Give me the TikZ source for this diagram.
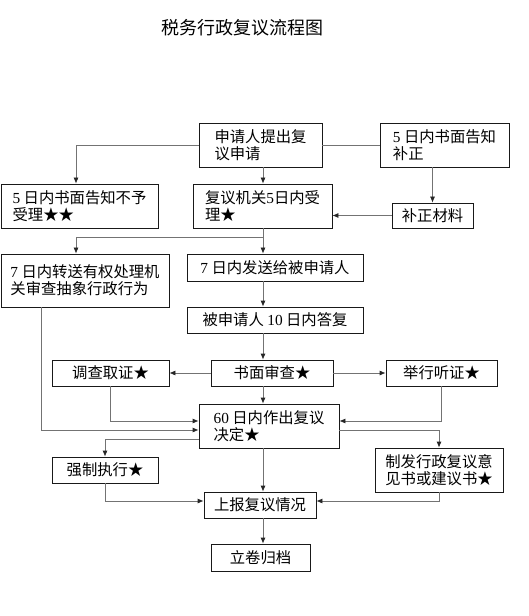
\documentclass[tikz,border=0pt]{standalone}
\usepackage{fontspec}
\setmainfont{Noto Sans CJK SC}
\newfontfamily\numfont{Liberation Serif}
\newcommand{\nr}[1]{{\numfont #1}}
\usetikzlibrary{arrows.meta}
\tikzset{box/.style={draw=black!90, align=left, inner sep=2pt},
  conn/.style={draw=black!55},
  >={Latex[length=4.5pt,width=3.8pt,color=black!85]}}
\begin{document}
\begin{tikzpicture}[x=0.75pt,y=-0.75pt,line width=0.6pt]\fontsize{11.5}{13}\selectfont
\useasboundingbox (0,0) rectangle (528,616);
\node (title) at (242,28) {\fontsize{13.5}{15}\selectfont 税务行政复议流程图};
\coordinate (trunk) at (263,0);
\coordinate (lcol) at (76,0);
\coordinate (split) at (263,237);
\node[box,minimum width=92.25pt,minimum height=33pt] (apply) at (260.5,145) {申请人提出复\\议申请};
\node[box,minimum width=96.75pt,minimum height=33pt] (notify) at (444.5,145) {\nr{5} 日内书面告知\\补正};
\node[box,minimum width=117.75pt,minimum height=33pt] (reject) at (79.5,206) {\nr{5} 日内书面告知不予\\受理★★};
\node[box,minimum width=104.25pt,minimum height=33pt] (accept) at (262.5,206) {复议机关\nr{5}日内受\\理★};
\node[box,minimum width=60.75pt,minimum height=18.75pt] (supply) at (432.5,215.5) {补正材料};
\node[box,minimum width=126pt,minimum height=39.75pt] (transfer) at (85,280.5) {\nr{7} 日内转送有权处理机\\关审查抽象行政行为};
\node[box,minimum width=132pt,minimum height=20.25pt] (send) at (275,267.5) {\nr{7} 日内发送给被申请人};
\node[box,minimum width=132pt,minimum height=19.5pt] (reply) at (275,320) {被申请人 \nr{10} 日内答复};
\node[box,minimum width=91.5pt,minimum height=19.5pt] (review) at (272,373) {书面审查★};
\node[box,minimum width=87.75pt,minimum height=19.5pt] (investigate) at (110.5,373) {调查取证★};
\node[box,minimum width=83.25pt,minimum height=19.5pt] (hearing) at (441.5,373) {举行听证★};
\node[box,minimum width=105pt,minimum height=33pt] (decide) at (269,426) {\nr{60} 日内作出复议\\决定★};
\node[box,minimum width=79.5pt,minimum height=19.5pt] (enforce) at (105,470) {强制执行★};
\node[box,minimum width=96pt,minimum height=33pt] (opinion) at (439,470) {制发行政复议意\\见书或建议书★};
\node[box,minimum width=84pt,minimum height=19.5pt] (report) at (260,505) {上报复议情况};
\node[box,minimum width=74.25pt,minimum height=20.25pt] (archive) at (260.5,557.5) {立卷归档};
\draw[conn,->] (apply.west) -| (reject.north -| lcol);
\draw[conn,->] (apply.south -| trunk) -- (accept.north -| trunk);
\draw[conn] (apply.east) -- (notify.west);
\draw[conn,->] (notify.south -| supply.north) -- (supply.north);
\draw[conn,->] (supply.west) -- (supply.west -| accept.east);
\draw[conn,->] (accept.south -| trunk) -- (send.north -| trunk);
\draw[conn,->] (split) -| (transfer.north -| lcol);
\draw[conn,->] (send.south -| trunk) -- (reply.north -| trunk);
\draw[conn,->] (reply.south -| trunk) -- (review.north -| trunk);
\draw[conn,->] (review.west) -- (investigate.east);
\draw[conn,->] (review.east) -- (hearing.west);
\draw[conn,->] (review.south -| trunk) -- (decide.north -| trunk);
\draw[conn,->] (investigate.south) |- (decide.west |- 0,421);
\draw[conn,->] (hearing.south) |- (decide.east |- 0,421);
\draw[conn,->] (transfer.south -| 41,0) |- (decide.west |- 0,430);
\draw[conn,->] (decide.west |- 0,439) -| (enforce.north);
\draw[conn,->] (decide.east |- 0,430) -| (opinion.north);
\draw[conn,->] (decide.south -| trunk) -- (report.north -| trunk);
\draw[conn,->] (enforce.south) |- (report.west |- 0,501);
\draw[conn,->] (opinion.south) |- (report.east |- 0,501);
\draw[conn,->] (report.south -| trunk) -- (archive.north -| trunk);
\end{tikzpicture}
\end{document}
